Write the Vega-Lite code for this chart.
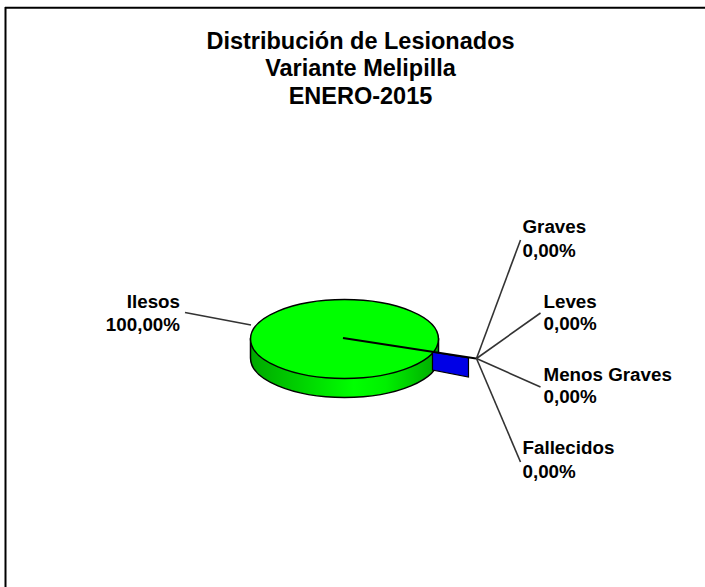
{"$schema":"https://vega.github.io/schema/vega-lite/v6.json","width":705,"height":587,"padding":0,"autosize":"none","background":"white","config":{"view":{"stroke":null},"axis":{"disable":true}},
"title":{"text":["Distribución de Lesionados","Variante Melipilla","ENERO-2015"],"font":"Liberation Sans","fontWeight":"bold","fontSize":23.5,"color":"black","lineHeight":27.5,"anchor":"middle","baseline":"top","dx":8,"dy":108,"offset":0},
"data":{"values":[{"categoria":"Ilesos","valor":100,"etiqueta":"Ilesos\n100,00%"},{"categoria":"Graves","valor":0,"etiqueta":"Graves\n0,00%"},{"categoria":"Leves","valor":0,"etiqueta":"Leves\n0,00%"},{"categoria":"Menos Graves","valor":0,"etiqueta":"Menos Graves\n0,00%"},{"categoria":"Fallecidos","valor":0,"etiqueta":"Fallecidos\n0,00%"}]},
"encoding":{"x":{"type":"quantitative","scale":{"domain":[0,705],"nice":false,"zero":false},"axis":null},"y":{"type":"quantitative","scale":{"domain":[587,0],"nice":false,"zero":false},"axis":null}},
"layer":[
{"transform":[{"filter":"datum.categoria==='Ilesos'"}],"mark":{"type":"rule","stroke":"black","strokeWidth":2},"encoding":{"x":{"datum":5.5},"y":{"datum":7},"y2":{"datum":587}}},
{"transform":[{"filter":"datum.categoria==='Ilesos'"}],"mark":{"type":"rule","stroke":"black","strokeWidth":2},"encoding":{"x":{"datum":5},"x2":{"datum":705},"y":{"datum":7.7}}},
{"transform":[{"filter":"datum.categoria==='Ilesos'"}],"mark":{"type":"point","filled":true,"opacity":1,"size":35344,"shape":"M-1,0 L-1,0.202 A1,0.42 0 0 0 1,0.202 L1,0 Z","fill":{"gradient":"linear","x1":0,"y1":0,"x2":1,"y2":0,"stops":[{"offset":0,"color":"#00a800"},{"offset":0.55,"color":"#00ff00"},{"offset":0.72,"color":"#00f000"},{"offset":1,"color":"#00a800"}]},"stroke":"black","strokeWidth":1.5},"encoding":{"x":{"datum":344.5},"y":{"datum":339}}},
{"transform":[{"filter":"datum.categoria==='Ilesos'"}],"mark":{"type":"point","filled":true,"opacity":1,"size":35344,"shape":"M-1,0 A1,0.42 0 1 0 1,0 A1,0.42 0 1 0 -1,0 Z","fill":"#00ff00","stroke":"black","strokeWidth":1.5},"encoding":{"x":{"datum":344.5},"y":{"datum":339}}},
{"transform":[{"filter":"datum.categoria==='Graves'"}],"mark":{"type":"point","filled":true,"opacity":1,"size":35344,"shape":"M0.936,0.138 L1.319,0.202 L1.319,0.404 L0.936,0.33 Z","fill":"#0000e6","stroke":"black","strokeWidth":1.2},"encoding":{"x":{"datum":344.5},"y":{"datum":339}}},
{"transform":[{"filter":"datum.categoria==='Graves'"}],"mark":{"type":"rule","stroke":"black","strokeWidth":2},"encoding":{"x":{"datum":343},"x2":{"datum":476},"y":{"datum":338},"y2":{"datum":358.5}}},
{"transform":[{"filter":"datum.categoria==='Ilesos'"}],"mark":{"type":"rule","stroke":"#333","strokeWidth":1.6},"encoding":{"x":{"datum":185},"x2":{"datum":251},"y":{"datum":312.5},"y2":{"datum":325}}},
{"transform":[{"filter":"datum.categoria==='Graves'"}],"mark":{"type":"rule","stroke":"#333","strokeWidth":1.6},"encoding":{"x":{"datum":476.5},"x2":{"datum":520.5},"y":{"datum":358.5},"y2":{"datum":240}}},
{"transform":[{"filter":"datum.categoria==='Leves'"}],"mark":{"type":"rule","stroke":"#333","strokeWidth":1.6},"encoding":{"x":{"datum":476.5},"x2":{"datum":540.5},"y":{"datum":358.5},"y2":{"datum":313}}},
{"transform":[{"filter":"datum.categoria==='Menos Graves'"}],"mark":{"type":"rule","stroke":"#333","strokeWidth":1.6},"encoding":{"x":{"datum":476.5},"x2":{"datum":540.5},"y":{"datum":358.5},"y2":{"datum":387}}},
{"transform":[{"filter":"datum.categoria==='Fallecidos'"}],"mark":{"type":"rule","stroke":"#333","strokeWidth":1.6},"encoding":{"x":{"datum":476.5},"x2":{"datum":520.5},"y":{"datum":358.5},"y2":{"datum":462}}},
{"transform":[{"filter":"datum.categoria==='Ilesos'"}],"mark":{"type":"text","lineBreak":"\n","font":"Liberation Sans","fontWeight":"bold","fontSize":18.8,"fill":"black","align":"right","baseline":"middle","lineHeight":23},"encoding":{"text":{"field":"etiqueta"},"x":{"datum":180},"y":{"datum":302}}},
{"transform":[{"filter":"datum.categoria==='Graves'"}],"mark":{"type":"text","lineBreak":"\n","font":"Liberation Sans","fontWeight":"bold","fontSize":18.8,"fill":"black","align":"left","baseline":"middle","lineHeight":24},"encoding":{"text":{"field":"etiqueta"},"x":{"datum":522.5},"y":{"datum":227}}},
{"transform":[{"filter":"datum.categoria==='Leves'"}],"mark":{"type":"text","lineBreak":"\n","font":"Liberation Sans","fontWeight":"bold","fontSize":18.8,"fill":"black","align":"left","baseline":"middle","lineHeight":22},"encoding":{"text":{"field":"etiqueta"},"x":{"datum":543.5},"y":{"datum":302}}},
{"transform":[{"filter":"datum.categoria==='Menos Graves'"}],"mark":{"type":"text","lineBreak":"\n","font":"Liberation Sans","fontWeight":"bold","fontSize":18.8,"fill":"black","align":"left","baseline":"middle","lineHeight":22},"encoding":{"text":{"field":"etiqueta"},"x":{"datum":543.5},"y":{"datum":375}}},
{"transform":[{"filter":"datum.categoria==='Fallecidos'"}],"mark":{"type":"text","lineBreak":"\n","font":"Liberation Sans","fontWeight":"bold","fontSize":18.8,"fill":"black","align":"left","baseline":"middle","lineHeight":24},"encoding":{"text":{"field":"etiqueta"},"x":{"datum":522.5},"y":{"datum":448}}}
]}
